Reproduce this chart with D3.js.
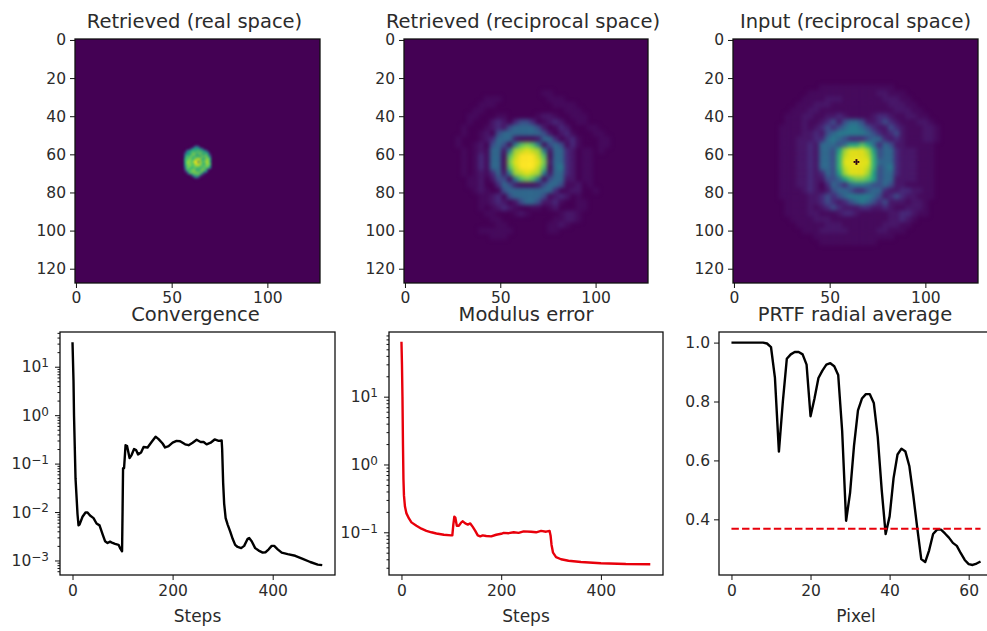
<!DOCTYPE html>
<html>
<head>
<meta charset="utf-8">
<script src="https://cdn.jsdelivr.net/npm/d3@7"></script>
<style>
  body { margin: 0; background: #fff; }
  svg { display: block; }
  text { font-family: "DejaVu Sans", sans-serif; fill: #2b2b2b; }
</style>
</head>
<body>
<div id="chart"></div>
<script>
// images: one hex digit per cell, looked up in digitLevels
var digitLevels = [0, 0.025, 0.06, 0.12, 0.24, 0.34, 0.42, 0.5, 0.58, 0.66, 0.73, 0.8, 0.86, 0.91, 0.96, 1];
var realRows = [
  "0000000001000000000",
  "0000000046400000000",
  "0000003688864000000",
  "0000468999a98640000",
  "0003789aaaaaa985000",
  "0005889bb9ab99a8300",
  "0006a9baa999bab9500",
  "0008aab9abcba9bb800",
  "0009abb9cddc9abc900",
  "0008bcabef6daacc800",
  "0008bbb9cedca9bca00",
  "0007abbabccbaabb800",
  "0005ab99aaa9aaaa600",
  "0004a9abb99abb93000",
  "00026aabbaaab860000",
  "000026aabbba8300000",
  "0000002699a62000000",
  "0000000047410000000",
  "0000000001000000000"
];
var retrievedRows = [
  "0000000000000000000000000000000",
  "0000000000000000000000000000000",
  "0000000000000000000000000000000",
  "0000000000000000001100000000000",
  "0000000011100000000111000000000",
  "0000000111000000000011110000000",
  "0000001100000000000000111000000",
  "0000011000110000012210011100000",
  "0000010002320344301232001100000",
  "0000100012324555542013200011000",
  "0000100120455555554202310001100",
  "0001000123555211125530231000110",
  "0001001204541" + "6aba6" + "1454131000110",
  "000010121" + "5526cdedc62553" + "20110100",
  "000010131" + "551adfffda1553" + "20110000",
  "000010131" + "551befffeb2553" + "20110000",
  "000010131" + "551adfffda1563" + "20110000",
  "000010121" + "3526cdedc62553" + "20110000",
  "000001120" + "24416aba614552" + "20110000",
  "0000011200354211124554112010000",
  "0000001210045555555530122001000",
  "0000000112304555554123201000000",
  "0000000112320245542231001100000",
  "0000000101232100110120001100000",
  "0000000011000121000001221000000",
  "0000000001100000000011221000000",
  "0000000000110000000112100000000",
  "0000000111111000000110000000000",
  "0000000001110000000000000000000",
  "0000000000000000000000000000000",
  "0000000000000000000000000000000"
];
var inputRows = [
  "0000000000000000000000000000000",
  "0000000000000000000000000000000",
  "0000000001111111111111000000000",
  "0000000111111111111221110000000",
  "0000001111222111111122211000000",
  "0000011122211111111112221100000",
  "0000111221111111111111222110000",
  "0001112211223211112332112211000",
  "0001112112342455422343211122100",
  "0011112123434566543224321112210",
  "0011112232456666654323421112210",
  "0011122233565433345532321112210",
  "0011122325554588a85354221111100",
  "0011122325548ceeec8455322211100",
  "0011122325549deeed9455322211100",
  "0011122325549eefee9555322211100",
  "0011122325549deeed9456322211100",
  "0011122323548ceeec8455322211100",
  "00111223224458abba8455222211100",
  "0011122320354356654454221111100",
  "0011112321245543345532233221100",
  "0011111223434566665423432211100",
  "0001111223432345654342221221000",
  "0001111212343222332232112221000",
  "0001111221112332111112233211000",
  "0000111122211111111112232100000",
  "0000011111222111111122211000000",
  "0000001112222211111221110000000",
  "0000000011111111111111000000000",
  "0000000001111111111000000000000",
  "0000000000000000000000000000000"
];
var inputHoleCols = [64, 63, 64, 65, 64];
var inputHoleRows = [63, 64, 64, 64, 65];

var convSteps = [0, 2, 3, 6, 10, 12, 14, 20, 26, 30, 35, 42, 48, 54, 60, 65, 70, 75, 80, 85, 92, 95, 99, 100, 101, 103, 106, 109, 114, 118, 123, 127, 131, 137, 142, 150, 158, 166, 172, 180, 185, 192, 200, 208, 215, 225, 232, 240, 248, 256, 262, 268, 276, 284, 292, 298, 299, 301, 303, 306, 310, 315, 320, 325, 330, 337, 343, 350, 353, 358, 365, 372, 380, 386, 392, 398, 403, 410, 418, 430, 445, 460, 475, 490, 499];
var convValues = [32, 5, 1.0, 0.05, 0.009, 0.0053, 0.0055, 0.008, 0.0098, 0.0098, 0.0085, 0.0075, 0.0058, 0.0053, 0.0035, 0.0025, 0.0023, 0.00245, 0.0023, 0.0022, 0.0021, 0.0018, 0.00155, 0.01, 0.08, 0.08, 0.24, 0.23, 0.13, 0.15, 0.2, 0.19, 0.155, 0.17, 0.22, 0.215, 0.28, 0.36, 0.32, 0.26, 0.215, 0.23, 0.27, 0.295, 0.29, 0.25, 0.24, 0.27, 0.31, 0.28, 0.28, 0.25, 0.27, 0.315, 0.295, 0.3, 0.2, 0.04, 0.015, 0.0075, 0.0055, 0.004, 0.0028, 0.0021, 0.0019, 0.0018, 0.002, 0.0028, 0.0029, 0.0025, 0.0018, 0.0016, 0.00145, 0.00148, 0.0017, 0.002, 0.002, 0.0017, 0.00145, 0.00135, 0.00125, 0.00108, 0.00093, 0.00082, 0.0008];

var modSteps = [0, 1, 2, 3, 4, 5, 7, 10, 15, 20, 30, 40, 50, 60, 70, 85, 100, 102, 104, 106, 108, 111, 115, 120, 123, 128, 133, 138, 143, 148, 153, 158, 163, 170, 180, 190, 200, 205, 215, 225, 235, 245, 260, 270, 280, 290, 297, 299, 301, 304, 310, 320, 335, 360, 400, 450, 499];
var modValues = [64.7, 30, 10, 2, 0.6, 0.35, 0.24, 0.19, 0.16, 0.14, 0.125, 0.113, 0.105, 0.1, 0.096, 0.092, 0.09, 0.09, 0.13, 0.17, 0.165, 0.125, 0.125, 0.14, 0.145, 0.135, 0.13, 0.135, 0.12, 0.105, 0.09, 0.087, 0.09, 0.088, 0.087, 0.092, 0.095, 0.098, 0.097, 0.1, 0.098, 0.103, 0.102, 0.1, 0.105, 0.102, 0.105, 0.09, 0.065, 0.05, 0.043, 0.04, 0.038, 0.0365, 0.035, 0.034, 0.0337];

var prtfValues = [1, 1, 1, 1, 1, 1, 1, 1, 1, 0.997, 0.985, 0.88, 0.63, 0.8, 0.945, 0.96, 0.968, 0.968, 0.96, 0.925, 0.75, 0.81, 0.88, 0.905, 0.925, 0.93, 0.92, 0.89, 0.7, 0.395, 0.49, 0.65, 0.77, 0.81, 0.825, 0.825, 0.795, 0.68, 0.5, 0.35, 0.41, 0.54, 0.62, 0.64, 0.63, 0.58, 0.48, 0.37, 0.265, 0.255, 0.295, 0.35, 0.365, 0.365, 0.352, 0.338, 0.32, 0.31, 0.285, 0.262, 0.248, 0.245, 0.25, 0.257];
var prtfThreshold = 0.368;

var imageXTicks = [0, 50, 100];
var imageYTicks = [0, 20, 40, 60, 80, 100, 120];
var stepTicks = [0, 200, 400];
var pixelTicks = [0, 20, 40, 60];
var prtfTicks = [0.4, 0.6, 0.8, 1.0];
var minorMultiples = [2, 3, 4, 5, 6, 7, 8, 9];
var minorDecades = [1e-4, 1e-3, 1e-2, 1e-1, 1, 10, 100];

var tickFont = 15.5;

var svg = d3.select("#chart").append("svg")
    .attr("width", 987)
    .attr("height", 631);

var defs = svg.append("defs");
addBlur("blurReal", 0.8);
addBlur("blurWide", 2.2);

var color = d3.scaleSequential(d3.interpolateViridis).domain([0, 1]);

function addBlur(id, dev) {
    defs.append("filter").attr("id", id)
        .attr("x", "-10%").attr("y", "-10%").attr("width", "120%").attr("height", "120%")
        .attr("color-interpolation-filters", "sRGB")
        .append("feGaussianBlur").attr("stdDeviation", dev);
}

function styleAxis(g) {
    g.select(".domain").remove();
    g.selectAll("line").attr("stroke", "#111").attr("stroke-width", 1);
    g.selectAll("text").style("font-size", tickFont + "px").style("font-family", "DejaVu Sans");
}

function frame(box) {
    svg.append("rect")
        .attr("x", box.left).attr("y", box.top)
        .attr("width", box.right - box.left).attr("height", box.bottom - box.top)
        .attr("fill", "none").attr("stroke", "#111").attr("stroke-width", 1.3);
}

function title(box, text, y, dx) {
    svg.append("text")
        .attr("x", (box.left + box.right) / 2 + dx).attr("y", y)
        .attr("text-anchor", "middle")
        .style("font-size", "19.5px")
        .text(text);
}

function drawImage(box, id, rows, cell, colStart, rowStart, blurId) {
    var x = d3.scaleLinear().domain([-0.5, 127.5]).range([box.left, box.right]);
    var y = d3.scaleLinear().domain([-0.5, 127.5]).range([box.top, box.bottom]);

    defs.append("clipPath").attr("id", id)
        .append("rect")
        .attr("x", box.left).attr("y", box.top)
        .attr("width", box.right - box.left).attr("height", box.bottom - box.top);

    var holder = svg.append("g").attr("clip-path", "url(#" + id + ")");
    holder.append("rect")
        .attr("x", box.left).attr("y", box.top)
        .attr("width", box.right - box.left).attr("height", box.bottom - box.top)
        .attr("fill", color(0));

    var cells = [];
    rows.forEach(function(row, r) {
        row.split("").forEach(function(ch, c) {
            var v = digitLevels[parseInt(ch, 16)];
            if (v > 0) cells.push({col: colStart + c * cell, row: rowStart + r * cell, v: v});
        });
    });

    holder.append("g").attr("filter", "url(#" + blurId + ")")
        .selectAll("rect")
        .data(cells)
        .enter().append("rect")
            .attr("x", function(d) { return x(d.col - 0.5); })
            .attr("y", function(d) { return y(d.row - 0.5); })
            .attr("width", x(cell) - x(0) + 0.3)
            .attr("height", y(cell) - y(0) + 0.3)
            .attr("fill", function(d) { return color(d.v); });

    frame(box);

    svg.append("g")
        .attr("transform", "translate(0," + box.bottom + ")")
        .call(d3.axisBottom(x).tickValues(imageXTicks).tickSize(5).tickPadding(4))
        .call(styleAxis);
    svg.append("g")
        .attr("transform", "translate(" + box.left + ",0)")
        .call(d3.axisLeft(y).tickValues(imageYTicks).tickSize(5).tickPadding(4))
        .call(styleAxis);

    return {x: x, y: y, holder: holder};
}

function decadeLabel(sel) {
    sel.selectAll(".tick text").each(function(d) {
        var t = d3.select(this).text(null);
        t.append("tspan").text("10");
        t.append("tspan")
            .attr("dy", "-0.42em")
            .style("font-size", "12px")
            .text(String(Math.round(Math.log10(d))).replace("-", "\u2212"));
    });
}

function drawLogPlot(box, steps, values, domain, stroke, majors, xLabel) {
    var x = d3.scaleLinear().domain([-25, 524.5]).range([box.left, box.right]);
    var y = d3.scaleLog().domain(domain).range([box.bottom, box.top]);
    var line = d3.line()
        .x(function(d, i) { return x(steps[i]); })
        .y(function(d) { return y(d); });

    svg.append("path")
        .attr("d", line(values))
        .attr("fill", "none")
        .attr("stroke", stroke)
        .attr("stroke-width", 2.4)
        .attr("stroke-linejoin", "round");

    frame(box);

    var minors = [];
    minorDecades.forEach(function(dec) {
        minorMultiples.forEach(function(m) {
            var t = dec * m;
            if (t >= domain[0] && t <= domain[1]) minors.push(t);
        });
    });

    svg.append("g")
        .attr("transform", "translate(" + box.left + ",0)")
        .call(d3.axisLeft(y).tickValues(minors).tickSize(2.5).tickFormat(""))
        .call(styleAxis);
    svg.append("g")
        .attr("transform", "translate(" + box.left + ",0)")
        .call(d3.axisLeft(y).tickValues(majors).tickSize(5).tickPadding(6))
        .call(styleAxis)
        .call(decadeLabel);
    svg.append("g")
        .attr("transform", "translate(0," + box.bottom + ")")
        .call(d3.axisBottom(x).tickValues(stepTicks).tickSize(5).tickPadding(5))
        .call(styleAxis);

    xTitle(box, xLabel);
}

function xTitle(box, text) {
    svg.append("text")
        .attr("x", (box.left + box.right) / 2).attr("y", 622)
        .attr("text-anchor", "middle")
        .style("font-size", "17px")
        .text(text);
}

function drawPrtf(box) {
    var x = d3.scaleLinear().domain([-3.15, 66.15]).range([box.left, box.right]);
    var y = d3.scaleLinear().domain([0.211, 1.036]).range([box.bottom, box.top]);
    var line = d3.line()
        .x(function(d, i) { return x(i); })
        .y(function(d) { return y(d); });

    svg.append("path")
        .attr("d", line(prtfValues))
        .attr("fill", "none").attr("stroke", "#000")
        .attr("stroke-width", 2.4).attr("stroke-linejoin", "round");
    svg.append("line")
        .attr("x1", x(0)).attr("x2", x(prtfValues.length - 1))
        .attr("y1", y(prtfThreshold)).attr("y2", y(prtfThreshold))
        .attr("stroke", "#e8000b").attr("stroke-width", 2.2)
        .attr("stroke-dasharray", "7.4,3.2");

    frame(box);

    svg.append("g")
        .attr("transform", "translate(" + box.left + ",0)")
        .call(d3.axisLeft(y).tickValues(prtfTicks).tickSize(5).tickPadding(4).tickFormat(d3.format(".1f")))
        .call(styleAxis);
    svg.append("g")
        .attr("transform", "translate(0," + box.bottom + ")")
        .call(d3.axisBottom(x).tickValues(pixelTicks).tickSize(5).tickPadding(5))
        .call(styleAxis);

    xTitle(box, "Pixel");
}

var box1 = {left: 75, right: 320, top: 39, bottom: 283},
    box2 = {left: 404, right: 648, top: 39, bottom: 283},
    box3 = {left: 733, right: 978, top: 39, bottom: 283},
    box4 = {left: 60, right: 335, top: 332, bottom: 575},
    box5 = {left: 389, right: 663, top: 332, bottom: 575},
    box6 = {left: 719, right: 993, top: 332, bottom: 575};

drawImage(box1, "clipReal", realRows, 1, 54, 55, "blurReal");
drawImage(box2, "clipRetrieved", retrievedRows, 3, 18, 18, "blurWide");
var inputImage = drawImage(box3, "clipInput", inputRows, 3, 18, 18, "blurWide");

// masked centre of the input pattern
inputImage.holder.append("g")
    .selectAll("rect")
    .data(inputHoleCols)
    .enter().append("rect")
        .attr("x", function(d) { return inputImage.x(d - 0.5); })
        .attr("y", function(d, i) { return inputImage.y(inputHoleRows[i] - 0.5); })
        .attr("width", inputImage.x(1) - inputImage.x(0))
        .attr("height", inputImage.y(1) - inputImage.y(0))
        .attr("fill", "#2a0016");

title(box1, "Retrieved (real space)", 28, -3);
title(box2, "Retrieved (reciprocal space)", 28, -3);
title(box3, "Input (reciprocal space)", 28, 0);

drawLogPlot(box4, convSteps, convValues, [Math.pow(10, -3.3), Math.pow(10, 1.717)], "#000", [1e-3, 1e-2, 1e-1, 1, 10], "Steps");
drawLogPlot(box5, modSteps, modValues, [Math.pow(10, -1.63), Math.pow(10, 1.954)], "#e8000b", [1e-1, 1, 10], "Steps");
drawPrtf(box6);

title(box4, "Convergence", 321, -2);
title(box5, "Modulus error", 321, 0);
title(box6, "PRTF radial average", 321, -1);
</script>
</body>
</html>
